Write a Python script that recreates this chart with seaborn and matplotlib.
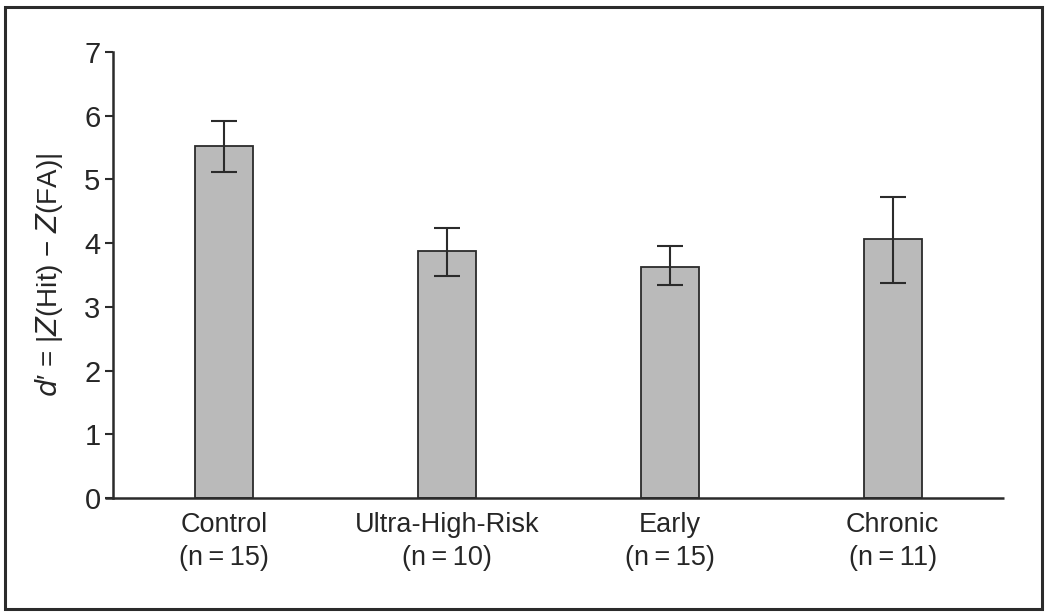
import numpy as np
import pandas as pd
import matplotlib
matplotlib.use('Agg')
import matplotlib.pyplot as plt
from matplotlib.patches import Rectangle
import seaborn as sns

# Data
groups = ['Control', 'Ultra-High-Risk', 'Early', 'Chronic']
n_sizes = [15, 10, 15, 11]
means = [5.53, 3.87, 3.62, 4.06]
err_low = [5.11, 3.49, 3.34, 3.38]
err_high = [5.92, 4.24, 3.96, 4.73]

labels = [f'{g}\n(n\u2009=\u2009{n})' for g, n in zip(groups, n_sizes)]
df = pd.DataFrame({'group': labels, 'dprime': means})

sns.set_theme(style='white')
font_list = ['Liberation Sans Narrow', 'Liberation Sans', 'DejaVu Sans']
plt.rcParams['font.family'] = font_list
plt.rcParams['mathtext.fontset'] = 'custom'
plt.rcParams['mathtext.it'] = 'Liberation Sans Narrow:italic'
plt.rcParams['mathtext.rm'] = 'Liberation Sans Narrow'

dark = '#2b2b2b'

fig = plt.figure(figsize=(10.5, 6.16), dpi=100)
ax = fig.add_axes([113 / 1050, 1 - 498 / 616, (1004 - 113) / 1050, (498 - 52) / 616])

sns.barplot(data=df, x='group', y='dprime', ax=ax, color='#bababa',
            edgecolor=dark, linewidth=1.3, width=0.26, errorbar=None, saturation=1)

x = np.arange(len(groups))
yerr = [np.array(means) - np.array(err_low), np.array(err_high) - np.array(means)]
ax.errorbar(x, means, yerr=yerr, fmt='none', ecolor=dark, elinewidth=1.5,
            capsize=9.5, capthick=1.5)

ax.set_xlim(-0.5, 3.5)
ax.set_ylim(0, 7)
ax.set_yticks(range(0, 8))
ax.tick_params(axis='y', direction='out', length=6, width=1.5, color=dark,
               labelsize=21, pad=3, left=True)
ax.tick_params(axis='x', length=0, labelsize=19.5, pad=10)
for lab in ax.get_xticklabels():
    lab.set_linespacing(1.35)

ax.set_xlabel('')
ax.set_ylabel(r'$d$′ = |$Z$(Hit) − $Z$(FA)|', fontsize=20, labelpad=14)

sns.despine(ax=ax)
ax.spines['left'].set_color(dark)
ax.spines['left'].set_linewidth(1.8)
ax.spines['bottom'].set_visible(False)
ax.plot([-8 / 891, 1], [0, 0], transform=ax.transAxes, clip_on=False,
        color=dark, lw=1.8, solid_capstyle='butt')

# outer frame
fig.patches.append(Rectangle((5 / 1050, 7 / 616), (1042 - 5) / 1050, (609 - 7) / 616,
                             transform=fig.transFigure, fill=False,
                             edgecolor=dark, linewidth=2.2))

fig.savefig('out.png', dpi=100)
